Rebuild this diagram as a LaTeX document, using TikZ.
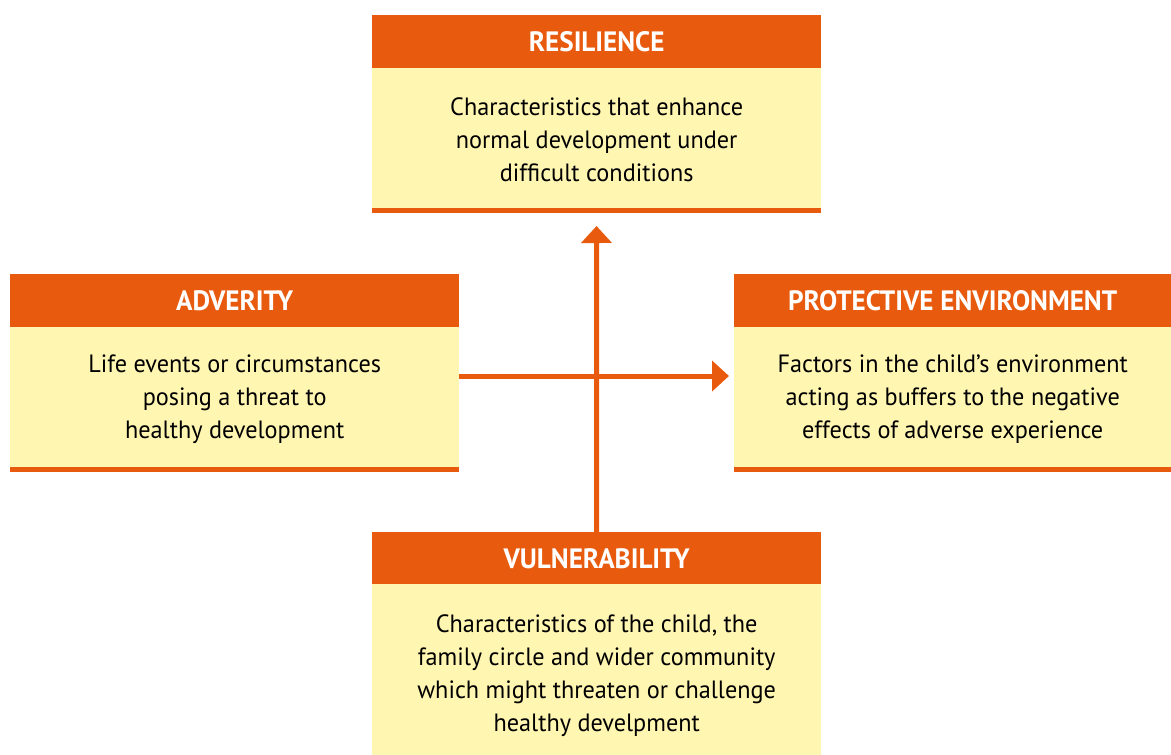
\documentclass[tikz,border=0pt]{standalone}
\usepackage{fontspec}
\setmainfont{PT Sans}[FakeStretch=0.97]
\usetikzlibrary{arrows.meta}
\definecolor{orng}{RGB}{232,91,14}
\definecolor{ylw}{RGB}{255,246,178}
\begin{document}
\begin{tikzpicture}[x=1pt,y=-1pt,
  hdr/.style={anchor=north west,fill=orng,draw=none,inner sep=0pt,text=white,
    font=\bfseries\fontsize{28}{30}\selectfont,minimum height=53pt},
  bodybox/.style={anchor=north west,fill=ylw,draw=none,inner sep=0pt},
  bodytext/.style={inner sep=0pt,align=center,font=\fontsize{25}{33}\selectfont,text=black},
  baseline/.style={anchor=north west,fill=orng,draw=none,inner sep=0pt,minimum height=5pt},
  conn/.style={draw=orng,line width=5pt,-{Triangle[length=17pt,width=30pt]}}]
\useasboundingbox (0,0) rectangle (1171,755);
% Resilience
\node[hdr,minimum width=449pt] (rh) at (372,15) {RESILIENCE};
\node[bodybox,minimum width=449pt,minimum height=140pt] (rb) at (372,68) {};
\node[bodytext] (rt) at ([yshift=-2pt]rb.center)
  {Characteristics that enhance\\normal development under\\difficult conditions};
\node[baseline,minimum width=449pt] (rl) at (372,208) {};
% Adverity
\node[hdr,minimum width=449pt] (ah) at (10,274) {ADVERITY};
\node[bodybox,minimum width=449pt,minimum height=140pt] (ab) at (10,327) {};
\node[bodytext] (at) at ([yshift=-2pt]ab.center)
  {Life events or circumstances\\posing a threat to\\healthy development};
\node[baseline,minimum width=449pt] (al) at (10,467) {};
% Protective environment
\node[hdr,minimum width=437pt] (ph) at (734,274) {PROTECTIVE ENVIRONMENT};
\node[bodybox,minimum width=437pt,minimum height=140pt] (pb) at (734,327) {};
\node[bodytext] (pt) at ([yshift=-2pt]pb.center)
  {Factors in the child’s environment\\acting as buffers to the negative\\effects of adverse experience};
\node[baseline,minimum width=437pt] (pl) at (734,467) {};
% Vulnerability
\node[hdr,minimum width=449pt] (vh) at (372,532) {VULNERABILITY};
\node[bodybox,minimum width=449pt,minimum height=171pt] (vb) at (372,584) {};
\node[bodytext] (vtx) at ([yshift=-6pt]vb.center)
  {Characteristics of the child, the\\family circle and wider community\\which might threaten or challenge\\healthy develpment};
% connectors
\coordinate (hs) at (459,376);
\coordinate (he) at (729,376);
\coordinate (vt) at (596.5,226);
\draw[conn] (hs) -- (he);
\draw[conn] (vh.north) -- (vt);
\end{tikzpicture}
\end{document}
